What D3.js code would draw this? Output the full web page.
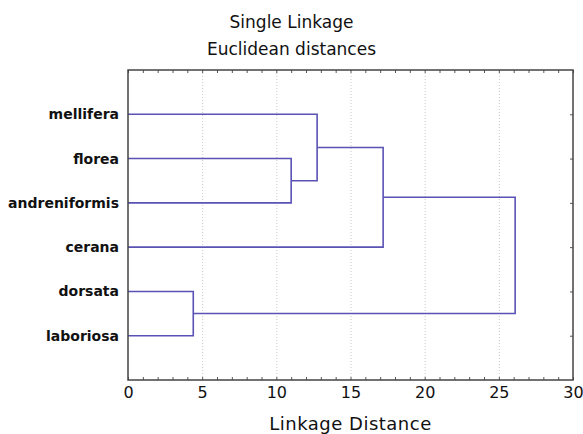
<!doctype html>
<html>
<head>
<meta charset="utf-8">
<title>Single Linkage dendrogram</title>
<style>
  body { margin: 0; background: #fff; }
  text { font-family: "DejaVu Sans", Verdana, sans-serif; fill: #111; }
</style>
</head>
<body>
<div id="here"></div>
<script src="https://d3js.org/d3.v7.min.js"></script>
<script>
var species = ["mellifera", "florea", "andreniformis", "cerana", "dorsata", "laboriosa"];
// each merge joins two clusters (leaves 0-5, new clusters numbered from 6)
var mergeLeft   = [4, 1, 0, 8, 9];
var mergeRight  = [5, 2, 7, 3, 6];
var mergeHeight = [4.4, 11.0, 12.75, 17.2, 26.1];
var xTicks = [0, 5, 10, 15, 20, 25, 30];

var W = 583, H = 434;
var m = { left: 128, right: 10, top: 70, bottom: 54 };

var svg = d3.select("#here").append("svg")
  .attr("width", W)
  .attr("height", H);

var x = d3.scaleLinear().domain([0, 30]).range([m.left, W - m.right]);
var y = d3.scaleLinear().domain([0, species.length + 1]).range([m.top, H - m.bottom]);

// grid lines
svg.append("g")
  .attr("transform", "translate(0," + (H - m.bottom) + ")")
  .call(d3.axisBottom(x).tickValues(xTicks.slice(1, -1)).tickSize(-(H - m.bottom - m.top)).tickFormat(""))
  .call(function(g) { g.select(".domain").remove(); })
  .selectAll("line")
  .attr("stroke", "#c8c8c8")
  .attr("stroke-dasharray", "1,2");

// minor ticks top and bottom
var minor = d3.range(0, 31);
svg.append("g")
  .attr("transform", "translate(0," + (H - m.bottom) + ")")
  .call(d3.axisBottom(x).tickValues(minor).tickSize(-3).tickFormat(""))
  .call(function(g) { g.select(".domain").remove(); g.selectAll("line").attr("stroke", "#555"); });
svg.append("g")
  .attr("transform", "translate(0," + m.top + ")")
  .call(d3.axisTop(x).tickValues(minor).tickSize(-3).tickFormat(""))
  .call(function(g) { g.select(".domain").remove(); g.selectAll("line").attr("stroke", "#555"); });

// right side ticks at the rows
svg.append("g")
  .attr("transform", "translate(" + (W - m.right) + ",0)")
  .call(d3.axisRight(y).tickValues(d3.range(1, species.length + 1)).tickSize(-3).tickFormat(""))
  .call(function(g) { g.select(".domain").remove(); g.selectAll("line").attr("stroke", "#555"); });

// x tick labels
svg.append("g")
  .attr("transform", "translate(0," + (H - m.bottom) + ")")
  .call(d3.axisBottom(x).tickValues(xTicks).tickSize(0).tickPadding(7))
  .call(function(g) {
    g.select(".domain").remove();
    g.selectAll("text").attr("font-size", 16).attr("font-family", "DejaVu Sans").attr("fill", "#111");
  });

// y labels
svg.append("g")
  .attr("transform", "translate(" + m.left + ",0)")
  .call(d3.axisLeft(y).tickValues(d3.range(1, species.length + 1)).tickSize(0).tickPadding(9)
    .tickFormat(function(d) { return species[d - 1]; }))
  .call(function(g) {
    g.select(".domain").remove();
    g.selectAll("text").attr("font-size", 14).attr("font-weight", "bold")
      .attr("font-family", "DejaVu Sans").attr("fill", "#111");
  });

// dendrogram links
var pos = species.map(function(s, i) { return { y: i + 1, h: 0 }; });
var links = [];
mergeHeight.forEach(function(h, k) {
  var a = pos[mergeLeft[k]], b = pos[mergeRight[k]];
  links.push({ a: a, b: b, h: h });
  pos.push({ y: (a.y + b.y) / 2, h: h });
});

svg.append("g")
  .selectAll("path")
  .data(links)
  .enter()
  .append("path")
  .attr("d", function(d) {
    return "M" + x(d.a.h) + "," + y(d.a.y) + "H" + x(d.h) + "V" + y(d.b.y) + "H" + x(d.b.h);
  })
  .attr("fill", "none")
  .attr("stroke", "#5a52b5")
  .attr("stroke-width", 1.6);

// frame
svg.append("rect")
  .attr("x", m.left)
  .attr("y", m.top)
  .attr("width", W - m.right - m.left)
  .attr("height", H - m.bottom - m.top)
  .attr("fill", "none")
  .attr("stroke", "#444")
  .attr("stroke-width", 1.5);

// titles
svg.append("text")
  .attr("x", W / 2).attr("y", 28)
  .attr("text-anchor", "middle").attr("font-size", 17)
  .text("Single Linkage");
svg.append("text")
  .attr("x", W / 2).attr("y", 55)
  .attr("text-anchor", "middle").attr("font-size", 17)
  .text("Euclidean distances");
svg.append("text")
  .attr("x", (m.left + W - m.right) / 2).attr("y", 430)
  .attr("text-anchor", "middle").attr("font-size", 18)
  .attr("letter-spacing", 0.5)
  .text("Linkage Distance");
</script>
</body>
</html>
